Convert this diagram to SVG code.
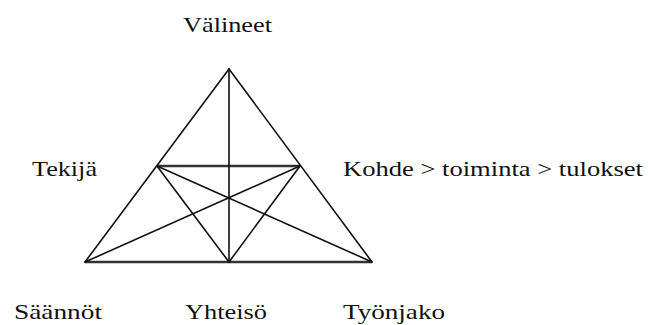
<svg xmlns="http://www.w3.org/2000/svg" width="648" height="325" viewBox="0 0 648 325">
<style>
.t{font-family:"Liberation Serif","Times New Roman",serif;font-size:22px;fill:#111}
.l{stroke:#111;stroke-width:1.6;fill:none;stroke-linecap:round}
.h{stroke:#333;stroke-width:2.6;fill:none}
</style>
<rect width="648" height="325" fill="#fff"/>
<g id="connectors">
<line class="h" x1="157" y1="166" x2="300" y2="166"/>
<line class="h" x1="85" y1="262" x2="372" y2="262"/>
<line class="l" x1="229" y1="69" x2="85" y2="262"/>
<line class="l" x1="229" y1="69" x2="372" y2="262"/>
<line class="l" x1="229" y1="69" x2="229" y2="262"/>
<line class="l" x1="157" y1="166" x2="229" y2="262"/>
<line class="l" x1="300" y1="166" x2="229" y2="262"/>
<line class="l" x1="157" y1="166" x2="372" y2="262"/>
<line class="l" x1="300" y1="166" x2="85" y2="262"/>
</g>
<g id="valineet"><text class="t" x="183" y="32" textLength="89" lengthAdjust="spacingAndGlyphs">Välineet</text></g>
<g id="tekija"><text class="t" x="32" y="176" textLength="65" lengthAdjust="spacingAndGlyphs">Tekijä</text></g>
<g id="kohde"><text class="t" x="343" y="176" textLength="300" lengthAdjust="spacingAndGlyphs">Kohde &gt; toiminta &gt; tulokset</text></g>
<g id="saannot"><text class="t" x="14" y="319" textLength="88" lengthAdjust="spacingAndGlyphs">Säännöt</text></g>
<g id="yhteiso"><text class="t" x="185" y="319" textLength="82" lengthAdjust="spacingAndGlyphs">Yhteisö</text></g>
<g id="tyonjako"><text class="t" x="343" y="319" textLength="102" lengthAdjust="spacingAndGlyphs">Työnjako</text></g>
</svg>
